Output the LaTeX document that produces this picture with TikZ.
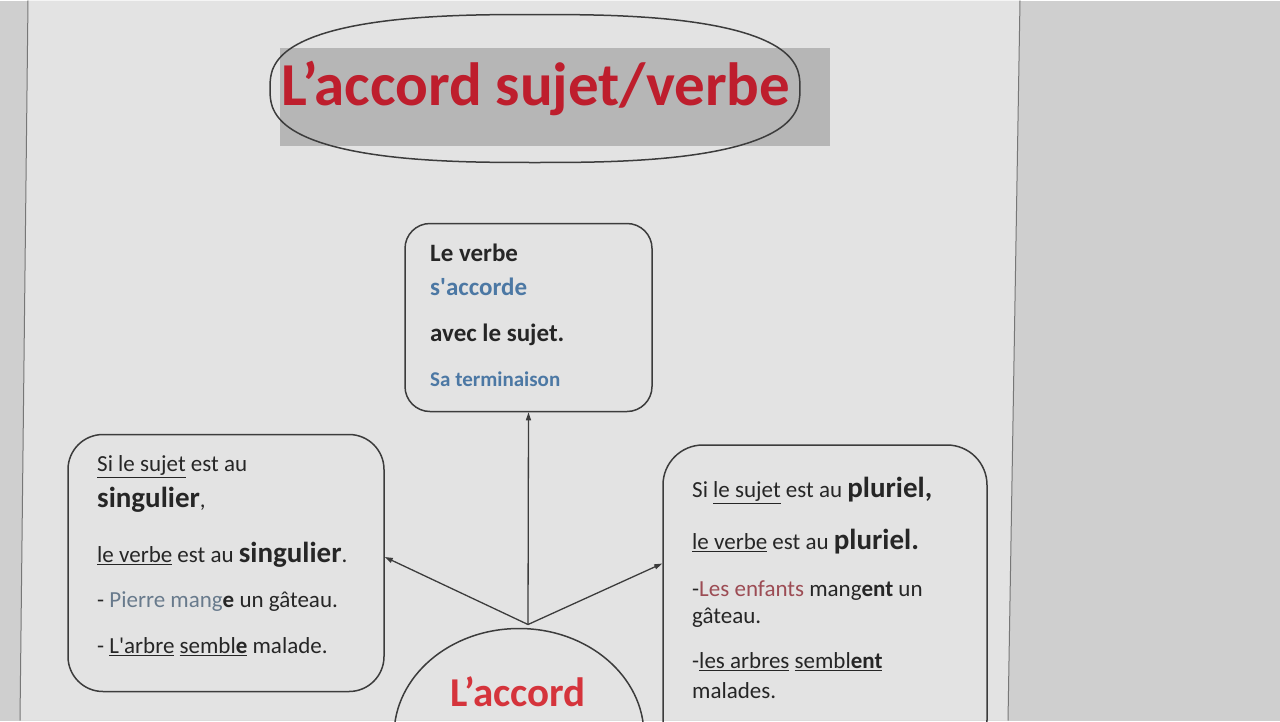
\documentclass[tikz,border=0pt]{standalone}
\usepackage{fontspec}
\setmainfont{Carlito}
\usetikzlibrary{positioning, shapes.geometric, arrows.meta}
\definecolor{titlered}{HTML}{BE1E2D}
\definecolor{accordred}{HTML}{D5343C}
\definecolor{verbblue}{HTML}{4C78A4}
\definecolor{exgray}{HTML}{687A8C}
\definecolor{exred}{HTML}{9C4C54}
\definecolor{linegray}{HTML}{3C3C3C}
\definecolor{pagegray}{HTML}{E3E3E3}
\definecolor{deskgray}{HTML}{CFCFCF}
\definecolor{markgray}{HTML}{B6B6B6}
\newcommand{\fs}[1]{\fontsize{#1}{#1}\selectfont}
\newcommand{\ap}{\textquotesingle}
\newcommand{\us}[1]{\underline{#1}}

\begin{document}
\begin{tikzpicture}
	% style
	[x=1pt, y=-1pt,
	box/.style={rectangle, draw=linegray, line width=1.5pt, inner sep=0pt},
	bubble/.style={ellipse, draw=linegray, line width=1.5pt, inner sep=0pt},
	txt/.style={inner sep=0pt, anchor=base west, text=black!85, font=\fs{23}},
	big/.style={font=\bfseries\fs{25}},
	link/.style={->, draw=linegray, line width=1.3pt},
	>={Triangle[length=8pt, width=5pt]}]

	% page
	\fill[deskgray] (0,0) rectangle (1280,720);
	\fill[pagegray] (28,0) -- (1020,0) -- (1008,720) -- (20,720) -- cycle;
	\draw[linegray!70, line width=1pt] (28,0) -- (20,720) (1020,0) -- (1008,720);
	\useasboundingbox (0,0) rectangle (1280,720);

	% title
	\node [fill=markgray, minimum width=550pt, minimum height=98pt, inner sep=0pt] (mark) at (555,96) {};
	\node [txt, text=titlered, font=\bfseries\fs{61}] (title) at (281,105) {L’accord sujet/verbe};
	\draw[linegray, line width=1.5pt] plot[domain=1.8:361.8, samples=101, smooth]
		({535+265*sign(cos(\x))*abs(cos(\x))^0.75}, {88+74*sign(sin(\x))*abs(sin(\x))^0.75}) -- cycle;

	% verbe
	\node [box, rounded corners=25pt, minimum width=247pt, minimum height=188pt] (verb) at (528.5,317) {};
	\node [txt, big] (verb_a) at (430,261) {Le verbe};
	\node [txt, big, text=verbblue, below=34pt of verb_a.base west, anchor=base west] (verb_b) {s\ap accorde};
	\node [txt, big, below=46pt of verb_b.base west, anchor=base west] (verb_c) {avec le sujet.};
	\node [txt, text=verbblue, font=\bfseries\fs{21}, below=45pt of verb_c.base west, anchor=base west] (verb_d) {Sa terminaison};

	% singulier
	\node [box, rounded corners=35pt, minimum width=316pt, minimum height=257pt] (sing) at (226,562.5) {};
	\node [txt] (sing_a) at (97,471) {\us{Si le sujet} est au};
	\node [txt, below=36pt of sing_a.base west, anchor=base west] (sing_b) {{\bfseries\fs{29}singulier},};
	\node [txt, below=55pt of sing_b.base west, anchor=base west] (sing_c) {\us{le verbe} est au {\bfseries\fs{29}singulier}.};
	\node [txt, below=45pt of sing_c.base west, anchor=base west] (sing_d) {- {\color{exgray}Pierre mang}{\bfseries e} un gâteau.};
	\node [txt, below=46pt of sing_d.base west, anchor=base west] (sing_e) {- \us{L\ap arbre} \us{sembl{\bfseries e}} malade.};

	% pluriel
	\node [box, rounded corners=40pt, minimum width=324pt, minimum height=315pt] (plur) at (825,602) {};
	\node [txt] (plur_a) at (692,497) {Si \us{le sujet} est au {\bfseries\fs{29}pluriel,}};
	\node [txt, below=52pt of plur_a.base west, anchor=base west] (plur_b) {\us{le verbe} est au {\bfseries\fs{29}pluriel.}};
	\node [txt, below=47pt of plur_b.base west, anchor=base west] (plur_c) {-{\color{exred}Les enfants} mang{\bfseries ent} un};
	\node [txt, below=27pt of plur_c.base west, anchor=base west] (plur_d) {gâteau.};
	\node [txt, below=45pt of plur_d.base west, anchor=base west] (plur_e) {-\us{les arbres} \us{sembl{\bfseries ent}}};
	\node [txt, below=30pt of plur_e.base west, anchor=base west] (plur_f) {malades.};

	% accord
	\node [bubble, minimum width=250pt, minimum height=214pt] (accord_bubble) at (519,735) {};
	\node [txt, anchor=base, text=accordred, font=\bfseries\fs{41}] (accord) at (518,706) {L’accord};
	\coordinate (hub) at (528,624);
	\path (hub) edge[link] (verb.south)
	            edge[link] ([yshift=6pt]sing.east)
	            edge[link] ([yshift=39pt]plur.west);
\end{tikzpicture}
\end{document}
